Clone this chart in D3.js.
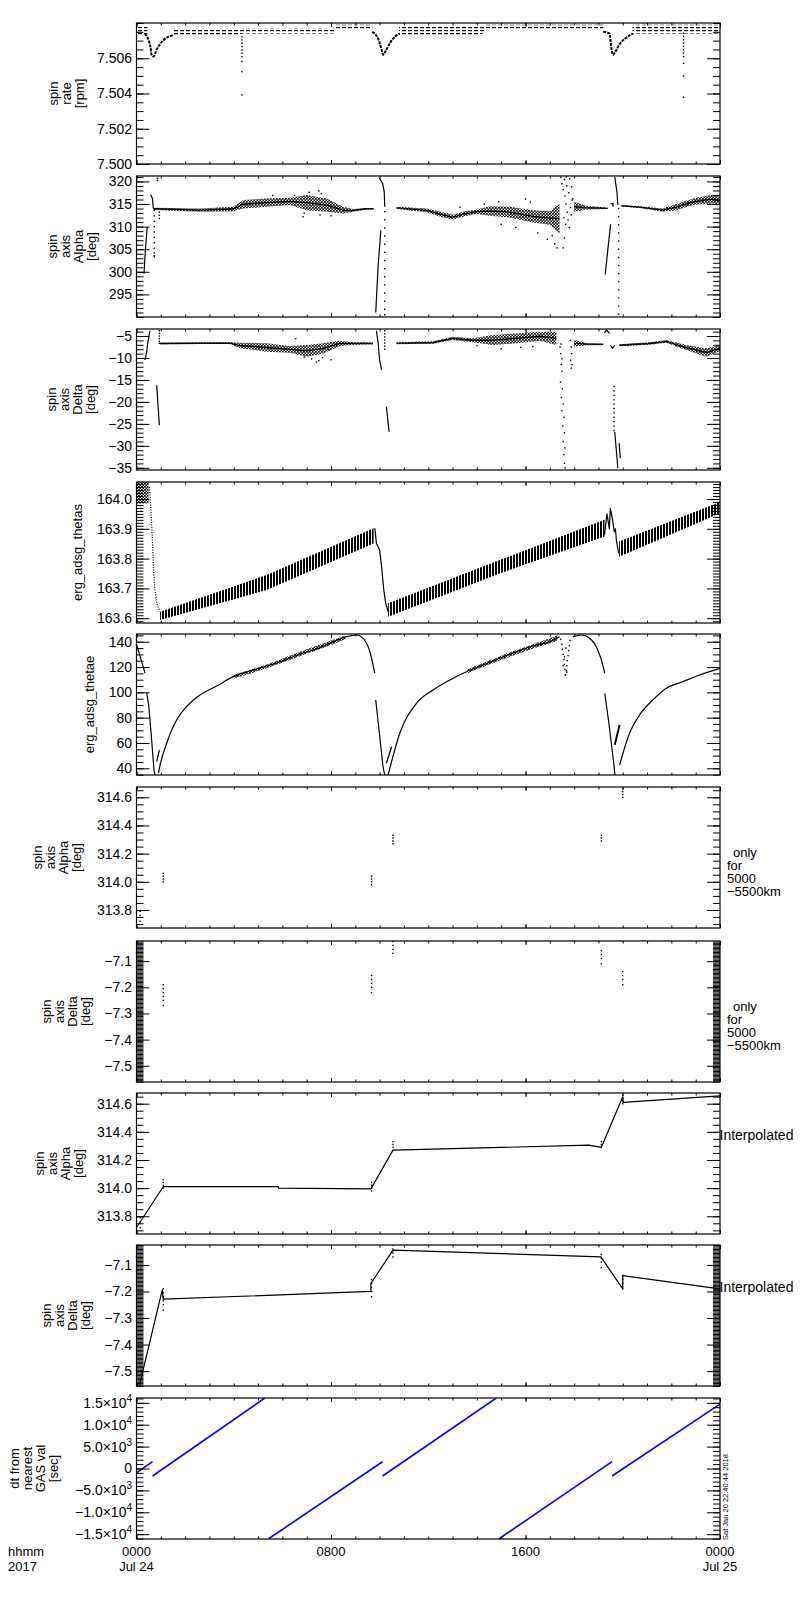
<!DOCTYPE html>
<html>
<head>
<meta charset="utf-8">
<script src="https://cdn.jsdelivr.net/npm/d3@7"></script>
<style>
  body { margin: 0; background: #fff; }
  text { font-family: 'Liberation Sans', Arial, sans-serif; fill: #000; }
</style>
</head>
<body>
<svg id="chart"></svg>
<script>
// ---------------- data (hour of day, value) ----------------
const timeTicks = [0, 8, 16, 24]
const timeLabels = [['0000', 'Jul 24'], ['0800', ''], ['1600', ''], ['0000', 'Jul 25']]

// spin rate [rpm]
const spinRateTicks = [7.500, 7.502, 7.504, 7.506]
const spinRateBandA = [[0, 7.5073, 7.5078], [0.45, 7.5073, 7.5078]]
const spinRateBandB = [[1.5, 7.5073, 7.5076], [4.0, 7.5073, 7.5076], [4.4, 7.5074, 7.5077], [8.1, 7.5074, 7.5077], [8.2, 7.5076, 7.5079], [9.7, 7.5076, 7.5079]]
const spinRateBandC = [[10.8, 7.5073, 7.5078], [14.2, 7.5073, 7.5078], [14.3, 7.5076, 7.5079], [19.2, 7.5076, 7.5079]]
const spinRateBandD = [[20.4, 7.5074, 7.5079], [24, 7.5074, 7.5079]]
const spinRateDip1 = [[0.35, 7.5074], [0.5, 7.5070], [0.58, 7.5066], [0.62, 7.5062], [0.7, 7.5061], [0.83, 7.5065], [0.97, 7.5068], [1.17, 7.5071], [1.5, 7.5073]]
const spinRateDip2 = [[9.7, 7.5075], [9.94, 7.5071], [10.08, 7.5065], [10.14, 7.5062], [10.28, 7.5065], [10.49, 7.5070], [10.69, 7.5073], [10.83, 7.5074]]
const spinRateDip3 = [[19.2, 7.5075], [19.46, 7.5074], [19.53, 7.5066], [19.6, 7.5062], [19.71, 7.5064], [19.87, 7.5068], [20.08, 7.5071], [20.42, 7.5074]]
const spinRateSpike1 = [[4.34, 7.50722], [4.34, 7.50704], [4.34, 7.50685], [4.34, 7.50666], [4.34, 7.50647], [4.34, 7.50628], [4.34, 7.50609], [4.34, 7.50581], [4.34, 7.50524], [4.34, 7.50392]]
const spinRateSpike2 = [[22.5, 7.50742], [22.5, 7.50724], [22.5, 7.50705], [22.5, 7.50686], [22.5, 7.50667], [22.5, 7.50648], [22.5, 7.50628], [22.5, 7.50609], [22.5, 7.50571], [22.5, 7.50500], [22.5, 7.50379]]

// spin axis alpha [deg]
const alphaTicks = [295, 300, 305, 310, 315, 320]
const alphaBandA = [[0.7, 313.7, 314.2], [2.61, 313.3, 314.0], [3.98, 313.4, 314.4], [4.39, 314.0, 315.9], [5.35, 314.4, 316.2], [6.31, 314.8, 316.4], [7.0, 313.6, 317.0], [7.82, 313.3, 316.2], [8.5, 312.9, 314.4], [8.91, 313.3, 313.9], [9.46, 313.8, 314.1], [9.75, 313.8, 314.1]]
const alphaBandB = [[10.7, 313.9, 314.4], [11.93, 313.2, 314.0], [12.6, 312.0, 313.2], [13.02, 311.6, 312.6], [13.5, 312.3, 313.4], [14.0, 312.8, 313.8], [14.53, 312.4, 314.5], [15.35, 312.0, 314.4], [16.3, 310.9, 313.6], [17.0, 310.4, 313.4], [17.4, 308.5, 315.0]]
const alphaBandC = [[18.0, 313.3, 315.5], [18.5, 313.8, 314.6], [19.38, 313.9, 314.2]]
const alphaBandD = [[19.94, 314.46, 314.76], [20.7, 314.1, 314.5], [21.65, 313.27, 314.0], [22.2, 313.6, 315.0], [22.9, 314.76, 316.24], [23.7, 315.1, 317.1], [24, 314.76, 316.6]]
const alphaOutliers = [[6.85, 312.2], [6.9, 313.0], [7.1, 317.6], [7.5, 317.9], [7.6, 317.3], [7.55, 312.6], [8.0, 312.4], [5.6, 316.9], [6.5, 316.9],
  [14.9, 315.5], [15.6, 309.8], [16.0, 316.1], [16.5, 308.6], [16.9, 307.2], [17.1, 308.0], [17.2, 306.2], [17.3, 305.3], [15.0, 310.5], [16.2, 315.4], [14.3, 315.0], [13.3, 314.3]]
const alphaScatter = [[17.45, 320.9], [17.5, 319.5], [17.55, 318.2], [17.6, 320.4], [17.62, 316.8], [17.66, 315.0], [17.7, 319.0], [17.72, 313.2], [17.75, 311.5], [17.78, 317.5], [17.8, 309.8], [17.82, 320.6], [17.85, 314.2], [17.88, 312.6], [17.9, 318.8], [17.92, 315.9], [17.6, 307.5], [17.55, 305.3], [17.65, 310.5], [17.95, 316.2], [17.68, 321.0], [17.58, 312.0]]
const alphaArcL = [[0.58, 317.1], [0.66, 316.2], [0.69, 314.0]]
const alphaDropL = [[0.44, 309.9], [0.36, 304.4], [0.31, 299.6]]
const alphaColL = [[0.73, 313.6], [0.73, 312.4], [0.73, 311.2], [0.73, 310.0], [0.73, 308.8], [0.73, 307.6], [0.73, 306.4], [0.73, 305.2], [0.73, 304.2], [0.73, 303.6], [0.73, 303.3], [0.86, 320.7], [0.86, 320.2], [0.94, 313.2], [0.94, 312.5], [0.94, 311.8]]
const alphaArcM = [[9.98, 320.8], [10.12, 319.6], [10.19, 317.7], [10.21, 314.4]]
const alphaDropM = [[10.05, 309.2], [9.94, 301.4], [9.84, 291.0]]
const alphaColM = [[10.21, 313.3], [10.21, 311.5], [10.21, 309.7], [10.21, 307.9], [10.21, 306.1], [10.21, 304.3], [10.21, 302.5], [10.21, 300.7], [10.21, 298.9], [10.21, 297.1], [10.21, 295.3], [10.21, 293.5], [10.21, 291.7], [10.21, 290.5]]
const alphaArcR = [[19.67, 321.0], [19.76, 317.7], [19.8, 314.8]]
const alphaDropR = [[19.5, 310.5], [19.39, 305.1], [19.28, 299.4]]
const alphaHookR = [[19.5, 315.1], [19.6, 315.1], [19.6, 314.4]]
const alphaColR = [[19.83, 314.0], [19.83, 312.2], [19.83, 310.4], [19.83, 308.6], [19.83, 306.8], [19.83, 305.0], [19.83, 303.2], [19.83, 301.4], [19.83, 299.6], [19.83, 297.8], [19.83, 296.0], [19.83, 294.2], [19.83, 292.4], [19.83, 290.6]]

// spin axis delta [deg]
const deltaTicks = [-35, -30, -25, -20, -15, -10, -5]
const deltaBandA = [[0.97, -6.89, -6.52], [2.61, -6.83, -6.45], [3.84, -6.83, -6.4], [4.25, -7.8, -6.52], [5.35, -8.57, -6.66], [6.31, -8.8, -7.27], [7.0, -9.7, -7.05], [7.68, -9.0, -6.66], [8.36, -7.27, -6.05], [8.91, -7.0, -6.4], [9.73, -6.9, -6.5]]
const deltaBandB = [[10.7, -6.89, -6.43], [12.2, -6.75, -6.2], [13.0, -5.9, -5.15], [13.84, -6.43, -5.5], [14.67, -7.05, -4.77], [15.63, -6.66, -4.4], [16.58, -6.1, -4.0], [17.27, -7.05, -4.0]]
const deltaBandC = [[18.0, -7.4, -5.9], [18.5, -7.1, -6.6], [19.2, -7.1, -6.7]]
const deltaBandD = [[19.87, -7.3, -6.9], [21.1, -7.0, -6.4], [21.79, -6.52, -5.9], [22.6, -8.2, -7.05], [23.44, -9.7, -7.8], [24, -8.4, -7.05]]
const deltaOutliers = [[6.9, -9.8], [7.2, -10.2], [7.4, -10.9], [7.5, -10.6], [7.65, -9.9], [8.0, -10.4], [6.55, -5.6], [7.9, -8.1], [15.0, -7.9], [15.8, -7.6], [16.3, -7.4], [14.0, -7.2]]
const deltaSpike = [[17.42, -7.5], [17.45, -9], [17.47, -11.5], [17.5, -13], [17.44, -15.5], [17.52, -17], [17.48, -19], [17.55, -20.5], [17.5, -22], [17.58, -23.5], [17.53, -25.5], [17.6, -27], [17.55, -29], [17.62, -30.5], [17.58, -32], [17.6, -34], [17.63, -35],
  [17.85, -6], [17.88, -7.5], [17.9, -9], [17.86, -10.5], [17.92, -11.5], [17.88, -12.3], [17.46, -6.8], [17.5, -10.2]]
const deltaArcL = [[0.55, -3.8], [0.46, -6.66], [0.42, -8.57], [0.35, -10.46]]
const deltaColL = [[0.94, -3.8], [0.94, -4.4], [0.94, -5.0], [0.94, -5.6], [0.94, -6.2], [0.94, -6.66]]
const deltaDropL = [[0.83, -16.2], [0.94, -25.3]]
const deltaArcM = [[9.87, -3.8], [9.94, -6.66], [10.0, -10.46], [10.08, -12.7]]
const deltaColM = [[10.21, -3.8], [10.21, -4.5], [10.21, -5.2], [10.21, -5.9], [10.21, -6.6], [10.21, -7.3], [10.21, -8.0]]
const deltaDropM = [[10.28, -21.1], [10.39, -26.8]]
const deltaCapR = [[19.25, -4.3], [19.33, -3.6], [19.46, -4.4]]
const deltaCupR = [[19.5, -7.1], [19.58, -7.8], [19.67, -7.1]]
const deltaColR = [[19.64, -16.5], [19.64, -17.5], [19.64, -18.5], [19.64, -19.5], [19.64, -20.5], [19.64, -21.5], [19.64, -22.5], [19.64, -23.5], [19.64, -24.5], [19.64, -25.5], [19.64, -26.5]]
const deltaDropR = [[19.67, -26.8], [19.8, -35.1]]
const deltaStubR = [[19.85, -29.4], [19.9, -32.8]]

// erg_adsg_thetas
const thetasTicks = [163.6, 163.7, 163.8, 163.9, 164.0]
const thetasBlock = [[0, 163.985, 164.06], [0.5, 163.985, 164.06]]
const thetasDrop1 = [[0.52, 164.04], [0.55, 164.02], [0.58, 163.98], [0.6, 163.95], [0.62, 163.92], [0.65, 163.87], [0.67, 163.83], [0.69, 163.784], [0.72, 163.74], [0.76, 163.695], [0.8, 163.67], [0.83, 163.65], [0.9, 163.635], [0.97, 163.622]]
const thetasBandA = [[0.97, 163.594, 163.622], [5.35, 163.695, 163.745], [9.75, 163.851, 163.902]]
const thetasDrop2 = [[9.8, 163.902], [9.87, 163.851], [10.0, 163.829], [10.08, 163.773], [10.17, 163.695], [10.25, 163.65], [10.35, 163.622]]
const thetasBandB = [[10.35, 163.605, 163.65], [14.94, 163.75, 163.795], [19.25, 163.874, 163.93]]
const thetasKink = [[19.25, 163.88], [19.35, 163.95], [19.45, 163.9], [19.49, 163.969], [19.58, 163.93], [19.65, 163.89], [19.7, 163.9], [19.74, 163.86], [19.83, 163.818]]
const thetasBandC = [[19.85, 163.806, 163.857], [24, 163.952, 163.99]]

// erg_adsg_thetae
const thetaeTicks = [40, 60, 80, 100, 120, 140]
const thetaeArc0 = [[0.0, 137.8], [0.17, 127], [0.35, 115.1]]
const thetaeFall0 = [[0.42, 99.7], [0.5, 90], [0.6, 68], [0.72, 38.7], [0.76, 34.7]]
const thetaeStub0 = [[0.83, 45.2], [0.94, 54.5]]
const thetaeRise1 = [[0.9, 36.1], [0.97, 42.6], [1.24, 59.8], [1.65, 78.2], [2.06, 88.7], [2.61, 97.9], [3.3, 105], [3.98, 112.4], [4.66, 116.9], [5.35, 120.8], [6.03, 125], [6.72, 130.3], [7.41, 134.2], [8.09, 140], [8.64, 144], [9.05, 145.3], [9.32, 142.7], [9.6, 132.1], [9.8, 115.1]]
const thetaeFall1 = [[9.84, 94], [10.14, 41.3], [10.21, 34.7]]
const thetaeStub1 = [[10.28, 44], [10.49, 57]]
const thetaeRise2 = [[10.35, 34.7], [10.83, 67.7], [11.52, 91.4], [12.2, 101.9], [12.89, 109.8], [13.57, 116.3], [14.25, 121.6], [14.94, 126.9], [15.63, 132.1], [16.31, 136.6], [17.0, 140], [17.4, 144]]
const thetaeDip = [[17.45, 142], [17.5, 138], [17.52, 134], [17.55, 130], [17.58, 126], [17.6, 122], [17.62, 118], [17.65, 114], [17.68, 117], [17.7, 121], [17.72, 125], [17.75, 129], [17.78, 133], [17.8, 137], [17.83, 141], [17.55, 121], [17.6, 128], [17.66, 135], [17.7, 116], [17.63, 113.7]]
const thetaeArc2 = [[17.95, 144], [18.3, 145.3], [18.64, 142.7], [18.91, 136.1], [19.12, 125.6], [19.26, 115.1]]
const thetaeFall2 = [[19.26, 99.2], [19.43, 75.6], [19.63, 44], [19.68, 34.7]]
const thetaeStub2 = [[19.67, 58.5], [19.87, 74.3]]
const thetaeRise3 = [[19.87, 42.6], [20.28, 67.7], [20.69, 82.1], [21.24, 94], [21.79, 103.2], [22.47, 108.4], [23.16, 113.7], [24, 119]]
const thetaeNoise1 = [[4.0, 111, 114], [5.5, 120, 123], [7.0, 130.5, 134], [8.0, 137.5, 141], [8.6, 142, 145]]
const thetaeNoise2 = [[13.6, 115, 118], [15.0, 125.5, 129], [16.3, 134.5, 138], [17.3, 140.5, 145]]

// spin axis alpha / delta only for 5000-5500 km
const alphaFineTicks = [313.8, 314.0, 314.2, 314.4, 314.6]
const deltaFineTicks = [-7.5, -7.4, -7.3, -7.2, -7.1]
const alphaOnly = [[0.15, 313.72], [0.15, 313.76], [0.15, 313.79],
  [1.1, 314.0], [1.1, 314.02], [1.1, 314.04], [1.1, 314.06],
  [9.67, 313.98], [9.67, 314.0], [9.67, 314.02], [9.67, 314.04],
  [10.55, 314.27], [10.55, 314.29], [10.55, 314.31], [10.55, 314.33],
  [19.12, 314.29], [19.12, 314.31], [19.12, 314.33],
  [20.0, 314.6], [20.0, 314.62], [20.0, 314.64], [20.0, 314.66]]
const deltaOnly = [[1.1, -7.19], [1.1, -7.205], [1.1, -7.22], [1.1, -7.235], [1.1, -7.25], [1.1, -7.27],
  [9.67, -7.155], [9.67, -7.17], [9.67, -7.185], [9.67, -7.2], [9.67, -7.22],
  [10.55, -7.025], [10.55, -7.04], [10.55, -7.055], [10.55, -7.07],
  [19.12, -7.06], [19.12, -7.075], [19.12, -7.09], [19.12, -7.11],
  [20.0, -7.14], [20.0, -7.155], [20.0, -7.17], [20.0, -7.19]]

// interpolated
const alphaInterp = [[0, 313.72], [1.1, 314.01], [5.83, 314.01], [5.84, 314.0], [9.64, 313.995], [10.55, 314.27], [10.6, 314.27], [18.6, 314.305], [19.12, 314.29], [20.0, 314.65], [20.02, 314.61], [24, 314.655]]
const deltaInterp = [[0.12, -7.554], [1.06, -7.194], [1.1, -7.229], [9.64, -7.2], [9.64, -7.17], [10.55, -7.044], [19.1, -7.07], [20.0, -7.19], [20.0, -7.14], [24, -7.19]]

// dt from nearest GAS val [sec]
const dtTicks = [-15000, -10000, -5000, 0, 5000, 10000, 15000]
const dtSegA = [[0, -1000], [0.66, 1550]]
const dtSegB = [[0.66, -1710], [5.28, 16100]]
const dtSegC = [[5.42, -16100], [10.12, 1550]]
const dtSegD = [[10.12, -1710], [14.8, 16100]]
const dtSegE = [[14.9, -16100], [19.56, 1550]]
const dtSegF = [[19.56, -1710], [24, 14700]]

// ---------------- layout ----------------
const width = 800
const height = 1600
const left = 136.5
const right = 720
const panelH = 141
const tops = [23, 176, 329, 482, 634, 787, 941, 1093, 1245, 1398]

const svg = d3.select('#chart').attr('width', width).attr('height', height)
const defs = svg.append('defs')

// fills that mimic the dense dot clouds of the original
const dash = defs.append('pattern').attr('id', 'dash').attr('patternUnits', 'userSpaceOnUse').attr('width', 6).attr('height', 3)
dash.append('rect').attr('width', 4).attr('height', 1.2).attr('fill', '#000')
const speck = defs.append('pattern').attr('id', 'speck').attr('patternUnits', 'userSpaceOnUse').attr('width', 3).attr('height', 3)
speck.append('rect').attr('width', 1.7).attr('height', 1.7).attr('fill', '#000')
speck.append('rect').attr('x', 1.5).attr('y', 1.5).attr('width', 1.5).attr('height', 1.5).attr('fill', '#000')
const saw = defs.append('pattern').attr('id', 'saw').attr('patternUnits', 'userSpaceOnUse').attr('width', 3).attr('height', 4)
saw.append('rect').attr('width', 2).attr('height', 4).attr('fill', '#000')

const x = d3.scaleLinear().domain([0, 24]).range([left, right])

const sci = (v) => {
  if (v === 0) return ['0', '']
  const e = Math.floor(Math.log10(Math.abs(v)))
  const m = (v / Math.pow(10, e)).toFixed(1).replace('-', '\u2212')
  return [m + '\u00d710', String(e)]
}

const panels = [
  {
    domain: [7.500, 7.508], ticks: spinRateTicks, minor: 0.0005, format: d3.format('.3f'),
    title: ['spin', 'rate', '[rpm]'], titleX: 84,
    marks: [
      { type: 'band', data: spinRateBandA, fill: 'url(#dash)' },
      { type: 'band', data: spinRateBandB, fill: 'url(#dash)' },
      { type: 'band', data: spinRateBandC, fill: 'url(#dash)' },
      { type: 'band', data: spinRateBandD, fill: 'url(#dash)' },
      { type: 'line', data: spinRateDip1, w: 2, dash: '3,1', smooth: true },
      { type: 'line', data: spinRateDip2, w: 2, dash: '3,1', smooth: true },
      { type: 'line', data: spinRateDip3, w: 2, dash: '3,1', smooth: true },
      { type: 'dots', data: spinRateSpike1 },
      { type: 'dots', data: spinRateSpike2 }
    ]
  },
  {
    domain: [290, 321.2], ticks: alphaTicks, minor: 1, format: d3.format('d'),
    title: ['spin', 'axis', 'Alpha', '[deg]'], titleX: 96,
    marks: [
      { type: 'band', data: alphaBandA, fill: 'url(#speck)', mid: true },
      { type: 'band', data: alphaBandB, fill: 'url(#speck)', mid: true },
      { type: 'band', data: alphaBandC, fill: 'url(#speck)', mid: true },
      { type: 'band', data: alphaBandD, fill: 'url(#speck)', mid: true },
      { type: 'dots', data: alphaOutliers },
      { type: 'dots', data: alphaScatter },
      { type: 'line', data: alphaArcL },
      { type: 'line', data: alphaDropL },
      { type: 'dots', data: alphaColL },
      { type: 'line', data: alphaArcM },
      { type: 'line', data: alphaDropM },
      { type: 'dots', data: alphaColM },
      { type: 'line', data: alphaArcR },
      { type: 'line', data: alphaDropR },
      { type: 'line', data: alphaHookR },
      { type: 'dots', data: alphaColR }
    ]
  },
  {
    domain: [-35.5, -3.4], ticks: deltaTicks, minor: 1, format: d3.format('d'),
    title: ['spin', 'axis', 'Delta', '[deg]'], titleX: 94.5,
    marks: [
      { type: 'band', data: deltaBandA, fill: 'url(#speck)', mid: true },
      { type: 'band', data: deltaBandB, fill: 'url(#speck)', mid: true },
      { type: 'band', data: deltaBandC, fill: 'url(#speck)', mid: true },
      { type: 'band', data: deltaBandD, fill: 'url(#speck)', mid: true },
      { type: 'dots', data: deltaOutliers },
      { type: 'dots', data: deltaSpike },
      { type: 'line', data: deltaArcL },
      { type: 'dots', data: deltaColL },
      { type: 'line', data: deltaDropL },
      { type: 'line', data: deltaArcM },
      { type: 'dots', data: deltaColM },
      { type: 'line', data: deltaDropM },
      { type: 'line', data: deltaCapR },
      { type: 'line', data: deltaCupR },
      { type: 'dots', data: deltaColR },
      { type: 'line', data: deltaDropR },
      { type: 'line', data: deltaStubR }
    ]
  },
  {
    domain: [163.584, 164.057], ticks: thetasTicks, minor: 0.01, format: d3.format('.1f'),
    title: ['erg_adsg_thetas'], titleX: 82,
    marks: [
      { type: 'band', data: thetasBlock, fill: 'url(#speck)' },
      { type: 'line', data: thetasDrop1, dash: '1,1.5' },
      { type: 'band', data: thetasBandA, fill: 'url(#saw)' },
      { type: 'line', data: thetasDrop2 },
      { type: 'band', data: thetasBandB, fill: 'url(#saw)' },
      { type: 'line', data: thetasKink },
      { type: 'band', data: thetasBandC, fill: 'url(#saw)' }
    ]
  },
  {
    domain: [34.7, 146.1], ticks: thetaeTicks, minor: 5, format: d3.format('d'),
    title: ['erg_adsg_thetae'], titleX: 94,
    marks: [
      { type: 'band', data: thetaeNoise1, fill: 'url(#speck)', smooth: true },
      { type: 'band', data: thetaeNoise2, fill: 'url(#speck)', smooth: true },
      { type: 'line', data: thetaeArc0, smooth: true },
      { type: 'line', data: thetaeFall0 },
      { type: 'line', data: thetaeStub0 },
      { type: 'line', data: thetaeRise1, smooth: true },
      { type: 'line', data: thetaeFall1 },
      { type: 'line', data: thetaeStub1 },
      { type: 'line', data: thetaeRise2, smooth: true },
      { type: 'dots', data: thetaeDip },
      { type: 'line', data: thetaeArc2, smooth: true },
      { type: 'line', data: thetaeFall2 },
      { type: 'line', data: thetaeStub2, w: 2 },
      { type: 'line', data: thetaeRise3, smooth: true }
    ]
  },
  {
    domain: [313.672, 314.673], ticks: alphaFineTicks, minor: 0.05, format: d3.format('.1f'),
    title: ['spin', 'axis', 'Alpha', '[deg]'], titleX: 81,
    note: ['only', 'for', '5000', '\u22125500km'],
    marks: [{ type: 'dots', data: alphaOnly }]
  },
  {
    domain: [-7.562, -7.023], ticks: deltaFineTicks, minor: 0.005, format: d3.format('.1f'),
    title: ['spin', 'axis', 'Delta', '[deg]'], titleX: 89.5,
    note: ['only', 'for', '5000', '\u22125500km'],
    marks: [{ type: 'dots', data: deltaOnly }]
  },
  {
    domain: [313.674, 314.676], ticks: alphaFineTicks, minor: 0.05, format: d3.format('.1f'),
    title: ['spin', 'axis', 'Alpha', '[deg]'], titleX: 82.5,
    note: ['Interpolated'],
    marks: [{ type: 'line', data: alphaInterp }, { type: 'dots', data: alphaOnly }]
  },
  {
    domain: [-7.556, -7.025], ticks: deltaFineTicks, minor: 0.005, format: d3.format('.1f'),
    title: ['spin', 'axis', 'Delta', '[deg]'], titleX: 89.5,
    note: ['Interpolated'],
    marks: [{ type: 'line', data: deltaInterp }, { type: 'dots', data: deltaOnly }]
  },
  {
    domain: [-16100, 16100], ticks: dtTicks, minor: 1000, format: null,
    title: ['dt from', 'nearest', 'GAS val', '[sec]'], titleX: 57.5,
    marks: [
      { type: 'line', data: dtSegA, color: '#0000ff', w: 1.6 },
      { type: 'line', data: dtSegB, color: '#0000ff', w: 1.6 },
      { type: 'line', data: dtSegC, color: '#0000ff', w: 1.6 },
      { type: 'line', data: dtSegD, color: '#0000ff', w: 1.6 },
      { type: 'line', data: dtSegE, color: '#0000ff', w: 1.6 },
      { type: 'line', data: dtSegF, color: '#0000ff', w: 1.6 }
    ]
  }
]

function styleAxis (g) {
  g.select('.domain').remove()
  g.selectAll('line').attr('stroke', '#000').attr('stroke-width', 1)
  g.selectAll('text').attr('font-size', 14).attr('fill', '#000')
    .attr('font-family', "'Liberation Sans', Arial, sans-serif")
}

function drawPanel (p, i) {
  const top = tops[i]
  const bottom = top + panelH
  const y = d3.scaleLinear().domain(p.domain).range([bottom, top])

  defs.append('clipPath').attr('id', 'clip' + i)
    .append('rect').attr('x', left).attr('y', top).attr('width', right - left).attr('height', panelH)
  const plot = svg.append('g').attr('clip-path', 'url(#clip' + i + ')')

  p.marks.forEach((m) => {
    const curve = m.smooth ? d3.curveMonotoneX : d3.curveLinear
    const line = d3.line().x((d) => x(d[0])).y((d) => y(d[1])).curve(curve)
    const area = d3.area().x((d) => x(d[0])).y0((d) => y(d[1])).y1((d) => y(d[2])).curve(curve)
    if (m.type === 'band') {
      plot.append('path').attr('d', area(m.data)).attr('fill', m.fill)
      if (m.mid) {
        plot.append('path')
          .attr('d', line(m.data.map((d) => [d[0], (d[1] + d[2]) / 2])))
          .attr('fill', 'none').attr('stroke', '#000').attr('stroke-width', 1.3)
      }
    } else if (m.type === 'line') {
      plot.append('path').attr('d', line(m.data))
        .attr('fill', 'none')
        .attr('stroke', m.color || '#000')
        .attr('stroke-width', m.w || 1.2)
        .attr('stroke-dasharray', m.dash || null)
        .attr('stroke-linejoin', 'round')
    } else {
      plot.selectAll(null).data(m.data).enter().append('rect')
        .attr('x', (d) => x(d[0]) - 0.7)
        .attr('y', (d) => y(d[1]) - 0.7)
        .attr('width', 1.4).attr('height', 1.4)
        .attr('fill', '#000')
    }
  })

  // y axes, ticks pointing inward on both sides
  const minorVals = d3.range(Math.ceil(p.domain[0] / p.minor - 1e-6), Math.floor(p.domain[1] / p.minor + 1e-6) + 1)
    .map((k) => k * p.minor)
  svg.append('g').attr('transform', 'translate(' + left + ',0)')
    .call(d3.axisLeft(y).tickValues(minorVals).tickSize(-7).tickFormat(''))
    .call(styleAxis)
  const yl = svg.append('g').attr('transform', 'translate(' + left + ',0)')
    .call(d3.axisLeft(y).tickValues(p.ticks).tickSize(-13).tickPadding(4.5).tickFormat(p.format || (() => '')))
    .call(styleAxis)
  if (!p.format) {
    yl.selectAll('.tick text').each(function (d) {
      const [base, exp] = sci(d)
      const t = d3.select(this).text(base)
      if (exp) t.append('tspan').attr('dy', -6).attr('font-size', 10).text(exp)
    })
  }
  svg.append('g').attr('transform', 'translate(' + right + ',0)')
    .call(d3.axisRight(y).tickValues(minorVals).tickSize(-7).tickFormat(''))
    .call(styleAxis)
  svg.append('g').attr('transform', 'translate(' + right + ',0)')
    .call(d3.axisRight(y).tickValues(p.ticks).tickSize(-13).tickFormat(''))
    .call(styleAxis)

  // time axes
  const hourTicks = d3.range(0, 25)
  svg.append('g').attr('transform', 'translate(0,' + bottom + ')')
    .call(d3.axisBottom(x).tickValues(hourTicks).tickSize(-2.5).tickFormat(''))
    .call(styleAxis)
  svg.append('g').attr('transform', 'translate(0,' + bottom + ')')
    .call(d3.axisBottom(x).tickValues(timeTicks).tickSize(-4).tickFormat(''))
    .call(styleAxis)
  svg.append('g').attr('transform', 'translate(0,' + top + ')')
    .call(d3.axisTop(x).tickValues(hourTicks).tickSize(-2.5).tickFormat(''))
    .call(styleAxis)
  svg.append('g').attr('transform', 'translate(0,' + top + ')')
    .call(d3.axisTop(x).tickValues(timeTicks).tickSize(-4).tickFormat(''))
    .call(styleAxis)

  svg.append('rect')
    .attr('x', left).attr('y', top).attr('width', right - left).attr('height', panelH)
    .attr('fill', 'none').attr('stroke', '#000').attr('stroke-width', 1.2)

  // stacked, rotated y title
  const mid = top + panelH / 2
  const n = p.title.length
  p.title.forEach((t, k) => {
    const tx = p.titleX - (n - 1 - k) * 13
    svg.append('text')
      .attr('transform', 'translate(' + tx + ',' + mid + ') rotate(-90)')
      .attr('text-anchor', 'middle')
      .attr('font-size', 13)
      .text(t)
  })

  if (p.note) {
    if (p.note.length > 1) {
      p.note.forEach((t, k) => {
        svg.append('text')
          .attr('x', k === 0 ? 733 : 727)
          .attr('y', top + 70 + k * 13)
          .attr('font-size', 13)
          .text(t)
      })
    } else {
      svg.append('text').attr('x', 719.5).attr('y', top + 47).attr('font-size', 14).text(p.note[0])
    }
  }
}

panels.forEach(drawPanel)

// bottom time labels
const lastBottom = tops[tops.length - 1] + panelH
timeTicks.forEach((t, i) => {
  timeLabels[i].forEach((s, k) => {
    if (!s) return
    svg.append('text').attr('x', x(t)).attr('y', lastBottom + 17 + k * 15)
      .attr('text-anchor', 'middle').attr('font-size', 13).text(s)
  })
})
svg.append('text').attr('x', 8).attr('y', lastBottom + 17).attr('font-size', 13).text('hhmm')
svg.append('text').attr('x', 8).attr('y', lastBottom + 32).attr('font-size', 13).text('2017')

// plot time stamp
svg.append('text')
  .attr('transform', 'translate(728,' + (lastBottom + 1) + ') rotate(-90)')
  .attr('font-size', 7.5)
  .text('Sat Jan 20 22:40:44 2018')
</script>
</body>
</html>
